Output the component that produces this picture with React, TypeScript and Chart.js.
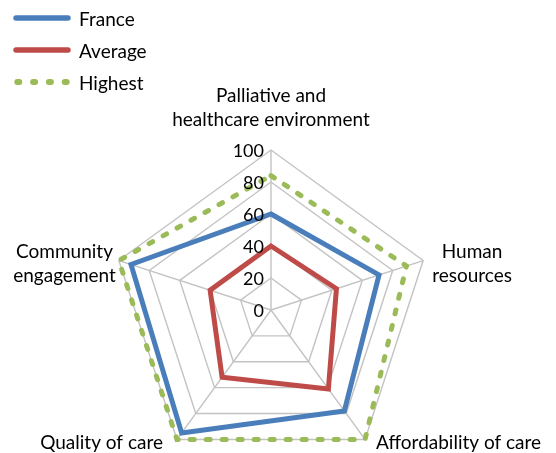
import React, { useEffect, useRef } from "react";
import { Chart, registerables } from "chart.js";

Chart.register(...registerables);

// ---- data ----
const categories: string[][] = [
  ["Palliative and", "healthcare environment"],
  ["Human", "resources"],
  ["Affordability of care"],
  ["Quality of care"],
  ["Community", "engagement"],
];
const seriesNames = ["France", "Average", "Highest"];
const franceValues = [60, 71, 78, 95, 92];
const averageValues = [40, 43, 61, 52, 40];
const highestValues = [84, 89, 100, 100, 100];
const tickValues = [0, 20, 40, 60, 80, 100];

// ---- style ----
const FONT = "Lato, 'Noto Sans', sans-serif";
const colors = ["#4a7ebb", "#be4b48", "#9bbb59"];

const textPlugin = {
  id: "radarText",
  afterDatasetsDraw(chart: any) {
    const scale = chart.scales.r;
    const ctx: CanvasRenderingContext2D = chart.ctx;
    ctx.save();
    ctx.fillStyle = "#000";
    ctx.textBaseline = "middle";
    // tick labels (right-aligned, left of the vertical axis)
    ctx.font = `18px ${FONT}`;
    ctx.textAlign = "right";
    tickValues.forEach((v) => {
      const d = scale.getDistanceFromCenterForValue(v);
      ctx.fillText(String(v), scale.xCenter - 7, scale.yCenter - d + 1);
    });
    // category labels
    ctx.font = `19px ${FONT}`;
    const lineH = 24;
    const gaps = [30, 9, 11, 14, 3];
    ctx.textAlign = "center";
    categories.forEach((lines, i) => {
      const p = scale.getPointPosition(i, scale.drawingArea);
      const dx = p.x - scale.xCenter;
      const w = Math.max(...lines.map((t) => ctx.measureText(t).width));
      const n = lines.length;
      let cx: number;
      let firstY: number;
      if (Math.abs(dx) < 1) {
        cx = p.x;
        firstY = p.y - gaps[i] - (n - 1) * lineH;
      } else {
        cx = dx > 0 ? p.x + gaps[i] + w / 2 : p.x - gaps[i] - w / 2;
        firstY = p.y + 3 - ((n - 1) * lineH) / 2;
      }
      lines.forEach((t, j) => ctx.fillText(t, cx, firstY + j * lineH));
    });
    ctx.restore();
  },
};

export default function App() {
  const ref = useRef<HTMLCanvasElement | null>(null);

  useEffect(() => {
    if (!ref.current) return;
    const chart = new Chart(ref.current, {
      type: "radar",
      data: {
        labels: categories.map((c) => c.join(" ")),
        datasets: [
          {
            label: seriesNames[0],
            data: franceValues,
            borderColor: colors[0],
            backgroundColor: "transparent",
            borderWidth: 5,
            fill: false,
          },
          {
            label: seriesNames[1],
            data: averageValues,
            borderColor: colors[1],
            backgroundColor: "transparent",
            borderWidth: 5,
            fill: false,
          },
          {
            label: seriesNames[2],
            data: highestValues,
            borderColor: colors[2],
            backgroundColor: "transparent",
            borderWidth: 5,
            borderDash: [4, 12],
            borderCapStyle: "round",
            fill: false,
          },
        ],
      },
      options: {
        responsive: false,
        animation: false,
        layout: { padding: { top: 150, bottom: 0, left: 0, right: 14 } },
        plugins: {
          legend: { display: false },
          tooltip: { enabled: false },
        },
        elements: {
          point: { radius: 0, hoverRadius: 0 },
          line: { tension: 0, borderJoinStyle: "miter" },
        },
        scales: {
          r: {
            min: 0,
            max: 100,
            ticks: { display: false, stepSize: 20 },
            pointLabels: { display: false },
            grid: { color: "#c3c3c3", lineWidth: 1.4 },
            angleLines: { color: "#c3c3c3", lineWidth: 1.4 },
          },
        },
      },
      plugins: [textPlugin],
    } as any);
    return () => chart.destroy();
  }, []);

  return (
    <div style={{ position: "fixed", left: 0, top: 0, width: 556, height: 453, overflow: "hidden", background: "#fff" }}>
      <canvas ref={ref} width={556} height={470} style={{ position: "absolute", left: 0, top: 0 }} />
      {seriesNames.map((name, i) => (
        <div
          key={name}
          style={{
            position: "absolute",
            left: 13,
            top: 2 + i * 32,
            height: 32,
            display: "flex",
            alignItems: "center",
            font: `19px ${FONT}`,
            color: "#000",
            whiteSpace: "nowrap",
          }}
        >
          <svg width={58} height={10} style={{ display: "block" }}>
            {i === 2 ? (
              <line x1={4.3} y1={5} x2={54} y2={5} stroke={colors[i]} strokeWidth={6} strokeLinecap="round" strokeDasharray="2 13.8" />
            ) : (
              <line x1={3} y1={5} x2={55} y2={5} stroke={colors[i]} strokeWidth={5.5} strokeLinecap="round" />
            )}
          </svg>
          <span style={{ marginLeft: 8 }}>{name}</span>
        </div>
      ))}
    </div>
  );
}
